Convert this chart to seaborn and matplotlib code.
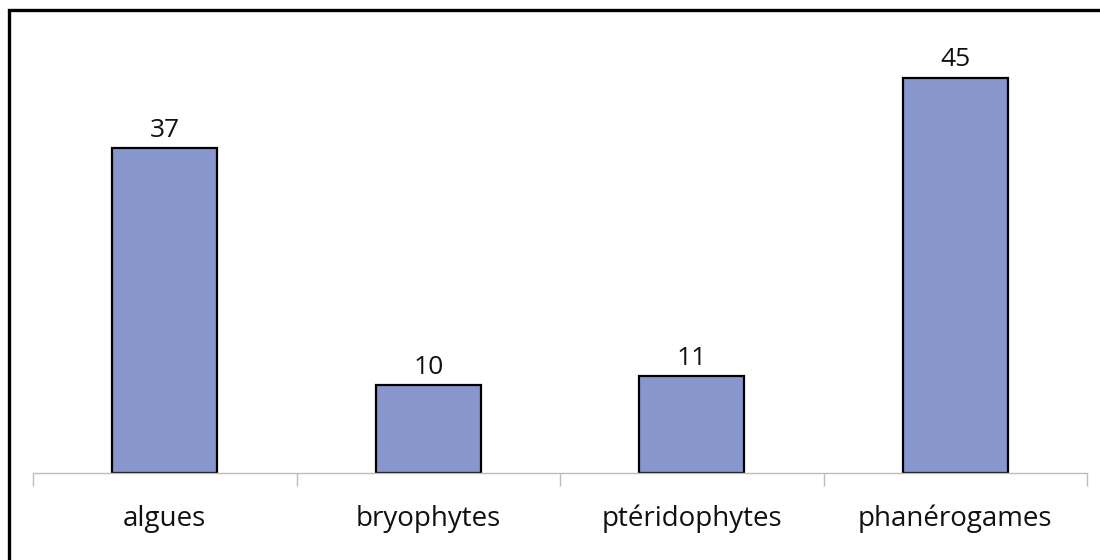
import matplotlib
matplotlib.use("Agg")
import matplotlib.pyplot as plt
from matplotlib.patches import Rectangle
from matplotlib.ticker import FixedLocator
import seaborn as sns

categories = ["algues", "bryophytes", "ptéridophytes", "phanérogames"]
counts = [37, 10, 11, 45]

sns.set_theme(style="white")
plt.rcParams["font.family"] = ["Open Sans", "DejaVu Sans"]

fig = plt.figure(figsize=(11, 5.6), dpi=100)
ax = fig.add_axes([33 / 1100, 87 / 560, 1054 / 1100, 439 / 560])

sns.barplot(x=categories, y=counts, color="#8797CE", saturation=1,
            edgecolor="black", linewidth=1.6, width=0.4, ax=ax)

ax.bar_label(ax.containers[0], labels=[str(v) for v in counts],
             padding=4, fontsize=19, color="#111111")

ax.set_xlim(-0.5, len(categories) - 0.5)
ax.set_ylim(0, 50)
ax.set_yticks([])
ax.set_xlabel("")
ax.set_ylabel("")
for side in ("top", "right", "left"):
    ax.spines[side].set_visible(False)
ax.spines["bottom"].set_color("#BDBDBD")
ax.spines["bottom"].set_linewidth(1.0)

# category labels centred under bars, tick marks on category boundaries
ax.tick_params(axis="x", which="major", length=0, pad=23, labelsize=20,
               labelcolor="#111111")
ax.xaxis.set_minor_locator(FixedLocator([i - 0.5 for i in range(len(categories) + 1)]))
ax.tick_params(axis="x", which="minor", length=9, width=1.0, color="#BDBDBD",
               direction="out", bottom=True)

# frame around the chart
fig.patches.append(Rectangle((9 / 1100, -0.1), 1.2, (550 / 560) + 0.1,
                             transform=fig.transFigure, fill=False,
                             edgecolor="black", linewidth=2.4))

fig.savefig("out.png", dpi=100)
